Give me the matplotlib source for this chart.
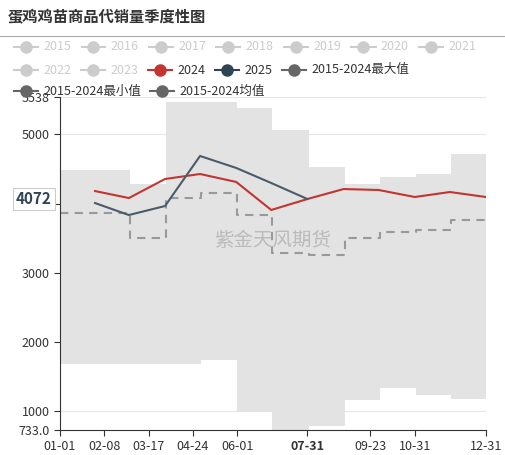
import numpy as np
import matplotlib.pyplot as plt
import datetime as dt

plt.rcParams['font.family'] = ['Microsoft YaHei', 'Noto Sans CJK SC', 'DejaVu Sans']

# --- data (monthly values) ---
band_max = [4485, 4485, 4283, 5466, 5466, 5380, 5062, 4528, 4283, 4380, 4427, 4715]
band_min = [1685, 1685, 1685, 1685, 1743, 993, 733, 790, 1165, 1340, 1238, 1180]
mean_vals = [3864, 3864, 3503, 4080, 4150, 3835, 3287, 3260, 3503, 3590, 3620, 3760]
s2024 = [4181, 4080, 4355, 4427, 4312, 3908, 4066, 4210, 4196, 4095, 4167, 4095]
s2025 = [4008, 3835, 3965, 4687, 4514, 4297, 4066]
tick_labels = ['01-01', '02-08', '03-17', '04-24', '06-01', '07-31', '09-23', '10-31', '12-31']
legend_grey = ['2015', '2016', '2017', '2018', '2019', '2020', '2021', '2022', '2023']

base = dt.date(2024, 1, 1)
def doy(s):
    m, d = map(int, s.split('-'))
    return (dt.date(2024, m, d) - base).days

month_start = [(dt.date(2024, m, 1) - base).days for m in range(1, 13)]
month_end = [(dt.date(2024, m + 1, 1) - base).days - 1 if m < 12 else 365 for m in range(1, 13)]
xs_step = month_start + [365]

fig = plt.figure(figsize=(5.06, 4.55), dpi=100)
ax = fig.add_axes([60 / 506, 25 / 455, 426 / 506, 333 / 455])

ax.fill_between(xs_step, band_min + [band_min[-1]], band_max + [band_max[-1]],
                step='post', color='#e3e3e3', lw=0, zorder=1)
ax.step(xs_step, mean_vals + [mean_vals[-1]], where='post', color='#999999',
        ls=(0, (4, 3)), lw=1.5, zorder=2)
ax.plot(month_end, s2024, color='#c23531', lw=1.5, zorder=3)
ax.plot(month_end[:len(s2025)], s2025, color='#4a5b6c', lw=1.5, zorder=4)

ax.set_xlim(0, 365)
ax.set_ylim(733, 5538)
ax.set_yticks([733, 1000, 2000, 3000, 4000, 5000, 5538])
ax.set_yticklabels(['733.0', '1000', '2000', '3000', '4000', '5000', '5538'])
ax.yaxis.grid(True, color='#e6e6e6', lw=0.8)
ax.set_axisbelow(True)
tpos = [doy(t) for t in tick_labels]
tpos[-1] = 365
ax.set_xticks(tpos)
ax.set_xticklabels(tick_labels)
for lab in ax.get_xticklabels():
    if lab.get_text() == '07-31':
        lab.set_fontweight('bold')
        lab.set_color('#2f4554')
        lab.set_fontsize(11)
ax.tick_params(labelsize=9, colors='#333333', length=4)
for s in ['top', 'right']:
    ax.spines[s].set_visible(False)
ax.spines['left'].set_color('#333333')
ax.spines['bottom'].set_color('#333333')

ax.text(0.5, 0.57, '紫金天风期货', transform=ax.transAxes, ha='center', va='center',
        fontsize=14, color='#bbbbbb', zorder=5)
ax.text(-0.02, 4072, '4072', transform=ax.get_yaxis_transform(), ha='right', va='center',
        fontsize=11, fontweight='bold', color='#2f4554', zorder=6,
        bbox=dict(boxstyle='square,pad=0.2', fc='white', ec='#cccccc', lw=0.8))

# --- title and legend ---
fig.text(8 / 506, 1 - 22 / 455, '蛋鸡鸡苗商品代销量季度性图', fontsize=11, fontweight='bold', color='#333333')
fig.add_artist(plt.Line2D([0, 1], [1 - 36 / 455, 1 - 36 / 455], color='#aaaaaa', lw=0.8))

def leg(x, y, text, color, tcolor):
    fy = 1 - y / 455
    fig.add_artist(plt.Line2D([x / 506, (x + 24) / 506], [fy, fy], color=color, lw=1.5))
    fig.add_artist(plt.Line2D([(x + 12) / 506], [fy], marker='o', ms=8, color=color))
    fig.text((x + 29) / 506, fy, text, fontsize=9, color=tcolor, va='center')

for i, name in enumerate(legend_grey[:7]):
    leg(14 + i * 67.5, 47, name, '#cccccc', '#cccccc')
leg(14, 70, '2022', '#cccccc', '#cccccc')
leg(81, 70, '2023', '#cccccc', '#cccccc')
leg(148, 70, '2024', '#c23531', '#333333')
leg(215, 70, '2025', '#2f4554', '#333333')
leg(282, 70, '2015-2024最大值', '#666666', '#333333')
leg(14, 91, '2015-2024最小值', '#666666', '#333333')
leg(150, 91, '2015-2024均值', '#666666', '#333333')

fig.savefig('out.png', dpi=100)
